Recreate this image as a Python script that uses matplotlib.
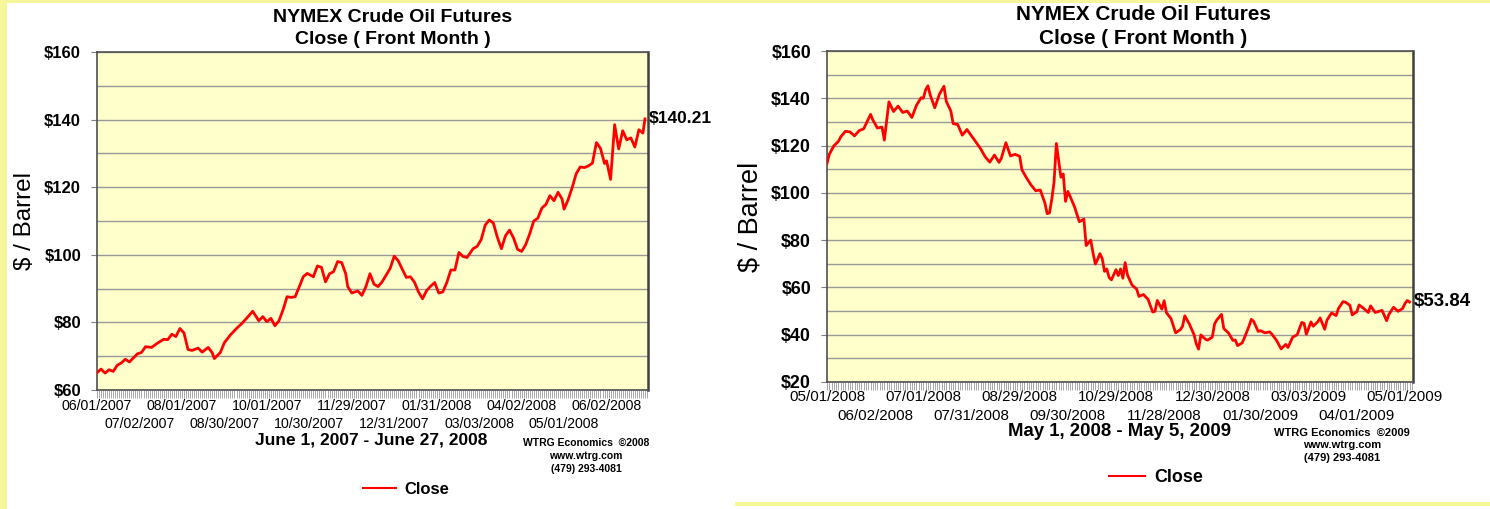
import matplotlib
matplotlib.use("Agg")
import matplotlib.pyplot as plt
import numpy as np
from matplotlib.patches import Rectangle
from matplotlib.ticker import FixedLocator, MultipleLocator

plt.rcParams["font.family"] = ["Liberation Sans", "DejaVu Sans"]

W, H = 1490, 509
YELLOW = "#F6F69A"
PLOT_BG = "#FFFFCC"
RED = "#FF0000"

# ---- left chart: 06/01/2007 .. 06/27/2008, x = trading-day index ----
LEFT_TICKS = ["06/01/2007", "07/02/2007", "08/01/2007", "08/30/2007", "10/01/2007",
              "10/30/2007", "11/29/2007", "12/31/2007", "01/31/2008", "03/03/2008",
              "04/02/2008", "05/01/2008", "06/02/2008"]
LEFT_DAY = [0, 2, 4, 6, 8, 10, 12, 14, 16, 18, 20, 22, 24, 27, 30, 33, 35, 37, 39, 41,
            43, 45, 47, 50, 52, 55, 57, 58, 61, 63, 66, 69, 72, 75, 77, 80, 82, 84, 86, 88,
            90, 92, 94, 96, 98, 100, 102, 104, 107, 109, 111, 113, 115, 117, 119, 121, 123, 124, 126, 129,
            131, 133, 135, 137, 139, 141, 143, 145, 147, 149, 151, 153, 155, 157, 159, 161, 163, 165, 167, 169,
            171, 173, 175, 177, 179, 181, 183, 186, 188, 190, 192, 194, 196, 198, 200, 202, 204, 206, 208, 210,
            212, 214, 216, 218, 220, 222, 224, 226, 228, 230, 231, 233, 235, 237, 239, 241, 243, 245, 247, 249,
            251, 252, 254, 256, 258, 260, 262, 264, 266, 268, 270, 271]
LEFT_CLOSE = [65.1, 66.2, 65.0, 66.0, 65.5, 67.3, 68.0, 69.1, 68.3, 69.5, 70.7, 71.1, 72.8, 72.6, 73.9, 75.0, 74.9, 76.5, 75.8, 78.2,
              76.9, 72.0, 71.7, 72.4, 71.2, 72.6, 71.0, 69.3, 71.1, 74.0, 76.3, 78.2, 79.9, 81.9, 83.3, 80.5, 81.7, 80.2, 81.2, 79.0,
              80.5, 83.7, 87.6, 87.4, 87.6, 90.5, 93.5, 94.5, 93.5, 96.7, 96.3, 92.0, 94.4, 95.0, 98.0, 97.7, 94.4, 90.6, 88.7, 89.3,
              88.0, 90.6, 94.4, 91.3, 90.6, 92.0, 94.0, 96.0, 99.6, 98.2, 95.7, 93.3, 93.5, 91.9, 89.0, 87.0, 89.4, 90.7, 91.8, 88.7,
              89.0, 91.8, 95.5, 95.5, 100.7, 99.5, 99.2, 101.8, 102.5, 104.5, 108.8, 110.3, 109.4, 105.2, 101.8, 105.6, 107.3, 105.0, 101.6, 101.0,
              103.0, 106.2, 110.0, 110.8, 113.8, 114.9, 117.5, 116.0, 118.5, 116.5, 113.5, 116.3, 119.9, 124.0, 126.0, 125.8, 126.3, 127.1, 133.2, 131.5,
              127.0, 127.8, 122.3, 138.5, 131.3, 136.7, 134.0, 134.6, 131.9, 137.0, 136.0, 140.21]
LEFT_YLIM = (60, 160)
LEFT_RANGE = "June 1, 2007 - June 27, 2008"
LEFT_YEAR = "2008"

# ---- right chart: 05/01/2008 .. 05/05/2009 ----
RIGHT_TICKS = ["05/01/2008", "06/02/2008", "07/01/2008", "07/31/2008", "08/29/2008",
               "09/30/2008", "10/29/2008", "11/28/2008", "12/30/2008", "01/30/2009",
               "03/03/2009", "04/01/2009", "05/01/2009"]
RIGHT_DAY = [0, 1, 3, 5, 6, 8, 10, 12, 14, 16, 19, 20, 22, 24, 25, 27, 29, 31, 33, 35,
             37, 39, 41, 42, 43, 44, 45, 47, 49, 51, 52, 54, 55, 57, 59, 61, 63, 65, 67, 69,
             71, 73, 75, 76, 78, 80, 82, 84, 85, 87, 89, 91, 93, 95, 96, 97, 98, 99, 100, 102,
             103, 104, 105, 106, 108, 110, 112, 113, 115, 116, 117, 118, 119, 120, 121, 122, 123, 124, 126, 127,
             128, 129, 130, 131, 133, 135, 136, 138, 140, 142, 143, 144, 146, 147, 148, 150, 152, 154, 155, 156,
             158, 160, 161, 162, 163, 165, 166, 168, 169, 170, 172, 173, 175, 177, 178, 179, 181, 182, 184, 185,
             186, 188, 189, 191, 193, 194, 196, 198, 200, 201, 203, 205, 207, 208, 209, 211, 212, 214, 215, 217,
             218, 220, 222, 223, 225, 226, 228, 229, 231, 232, 234, 236, 237, 239, 241, 242, 244, 245, 247, 249,
             251, 252, 253, 254]
RIGHT_CLOSE = [112.5, 116.3, 119.9, 121.8, 123.7, 126.0, 125.8, 124.1, 126.3, 127.1, 133.2, 130.8, 127.4, 127.8, 122.3, 138.5, 134.4, 136.7, 134.0, 134.6,
               131.9, 137.0, 140.2, 140.0, 143.6, 145.3, 141.4, 136.0, 141.7, 145.1, 138.7, 134.6, 129.3, 128.9, 124.4, 126.8, 124.1, 121.4, 118.6, 115.2,
               113.0, 116.0, 112.9, 114.6, 121.2, 115.6, 116.3, 115.5, 109.7, 106.3, 103.3, 100.9, 101.2, 95.7, 91.2, 91.5, 97.2, 104.6, 120.9, 106.6,
               108.0, 96.4, 100.6, 98.5, 93.9, 87.8, 88.9, 77.7, 80.0, 74.5, 69.9, 71.9, 74.3, 72.2, 66.8, 67.8, 64.2, 63.2, 67.5, 65.0,
               67.8, 63.9, 70.5, 65.3, 61.0, 59.3, 56.2, 57.0, 54.9, 49.6, 49.9, 54.5, 50.8, 54.4, 49.3, 46.8, 40.8, 42.1, 43.5, 48.0,
               44.5, 40.1, 36.2, 33.9, 39.9, 38.1, 37.7, 39.0, 44.6, 46.3, 48.6, 42.6, 40.8, 37.6, 37.8, 35.4, 36.5, 38.7, 43.6, 46.5,
               45.7, 41.4, 41.7, 40.8, 41.2, 40.2, 37.6, 34.0, 35.9, 34.6, 38.9, 40.0, 45.2, 44.8, 40.2, 45.4, 43.6, 45.5, 47.1, 42.3,
               46.2, 49.2, 48.1, 51.1, 54.0, 53.8, 52.4, 48.4, 49.7, 52.6, 51.1, 49.4, 52.2, 49.4, 50.0, 50.3, 45.9, 48.6, 51.6, 49.9,
               51.1, 53.2, 54.5, 53.84]
RIGHT_YLIM = (20, 160)
RIGHT_RANGE = "May 1, 2008 - May 5, 2009"
RIGHT_YEAR = "2009"

TICK_STEP = 21  # one date label every 21 trading days


def fx(x):
    return x / W


def fy(y):
    return 1.0 - y / H


fig = plt.figure(figsize=(W / 100, H / 100), dpi=100)
fig.patch.set_facecolor("white")
# thin yellow page borders
for x0, y0, x1, y1 in [(0, 0, W, 3), (0, 0, 7, H), (735, 502, W, 506)]:
    fig.add_artist(Rectangle((fx(x0), fy(y1)), fx(x1 - x0), (y1 - y0) / H,
                             transform=fig.transFigure, color=YELLOW, lw=0, zorder=0))


def panel(box, days, close, ticks, ylim, xmax, rng, year, lay, s):
    x0, y0, x1, y1 = box
    ax = fig.add_axes([fx(x0), fy(y1), fx(x1 - x0), (y1 - y0) / H])
    ax.set_facecolor(PLOT_BG)
    ax.plot(days, close, color=RED, lw=2.0, label="Close", zorder=3)
    ax.set_xlim(0, xmax)
    ax.set_ylim(*ylim)

    ax.yaxis.set_major_locator(MultipleLocator(20))
    ax.yaxis.set_minor_locator(MultipleLocator(10))
    ax.set_yticklabels([f"${int(v)}" for v in ax.get_yticks()])
    ax.grid(axis="y", which="both", color="#9a9a9a", lw=1.0, zorder=1)
    ax.set_axisbelow(True)
    ax.tick_params(axis="y", which="major", length=4.5, color="#808080", pad=7,
                   labelsize=12 * s)
    for lab in ax.get_yticklabels():
        lab.set_fontweight("bold")
    ax.tick_params(axis="y", which="minor", length=0)

    # date labels in two staggered rows
    pos = np.arange(len(ticks)) * TICK_STEP
    ax.xaxis.set_major_locator(FixedLocator(pos))
    ax.set_xticklabels(ticks)
    ax.xaxis.set_minor_locator(MultipleLocator(1))
    ax.tick_params(axis="x", which="both", length=5.5, width=0.7, color="#a8a8a8",
                   direction="out", pad=lay["xpad"], labelsize=10.2 * s)
    for i, t in enumerate(ax.xaxis.get_major_ticks()):
        if i % 2:
            t.set_pad(lay["xpad"] + 13.0 * s)

    for side, sp in ax.spines.items():
        sp.set_color("#505050")
        sp.set_linewidth(1.2)
    ax.spines["right"].set_linewidth(1.8)
    ax.spines["right"].set_color("#404040")

    ax.annotate(f"${close[-1]:.2f}", (days[-1], close[-1]), xytext=(3, 0),
                textcoords="offset points", va="center", ha="left",
                fontsize=12.5 * s, fontweight="bold", annotation_clip=False)

    ax.text(lay["ylab_x"], 0.5, "$ / Barrel", transform=ax.transAxes, rotation=90,
            ha="center", va="center", fontsize=lay["ylab_fs"])

    tx, ty1, ty2 = lay["title"]
    fig.text(fx(tx), fy(ty1), "NYMEX Crude Oil Futures", ha="center", va="center",
             fontsize=14 * s, fontweight="bold")
    fig.text(fx(tx), fy(ty2), "Close ( Front Month )", ha="center", va="center",
             fontsize=14 * s, fontweight="bold")

    rx, ry = lay["range"]
    fig.text(fx(rx), fy(ry), rng, ha="center", va="center",
             fontsize=12.5 * s, fontweight="bold")

    wx, wy = lay["wtrg"]
    for k, line in enumerate([f"WTRG Economics  \u00a9{year}", "www.wtrg.com",
                              "(479) 293-4081"]):
        fig.text(fx(wx), fy(wy + k * lay["wstep"]), line, ha="center", va="center",
                 fontsize=7.5 * s, fontweight="bold")

    lx, ly = lay["legend"]
    leg = ax.legend(loc="center", bbox_to_anchor=(fx(lx), fy(ly)),
                    bbox_transform=fig.transFigure, frameon=False,
                    prop={"size": 12 * s, "weight": "bold"},
                    handlelength=2.0, handletextpad=0.5)
    leg.get_lines()[0].set_linewidth(1.5)
    return ax


panel((97, 52, 648, 390), LEFT_DAY, LEFT_CLOSE, LEFT_TICKS, LEFT_YLIM, 272.5,
      LEFT_RANGE, LEFT_YEAR,
      dict(xpad=1.0, ylab_x=-0.13, ylab_fs=17.5, title=(393, 17, 40),
           range=(371, 440), wtrg=(586, 443), wstep=13, legend=(406, 489)),
      1.0)

panel((827, 51, 1413, 382), RIGHT_DAY, RIGHT_CLOSE, RIGHT_TICKS, RIGHT_YLIM, 255.5,
      RIGHT_RANGE, RIGHT_YEAR,
      dict(xpad=0.3, ylab_x=-0.131, ylab_fs=19.5, title=(1143, 15, 39),
           range=(1120, 431), wtrg=(1342, 433), wstep=12.5, legend=(1156, 478)),
      1.07)

fig.savefig("out.png", dpi=100, facecolor=fig.get_facecolor())
